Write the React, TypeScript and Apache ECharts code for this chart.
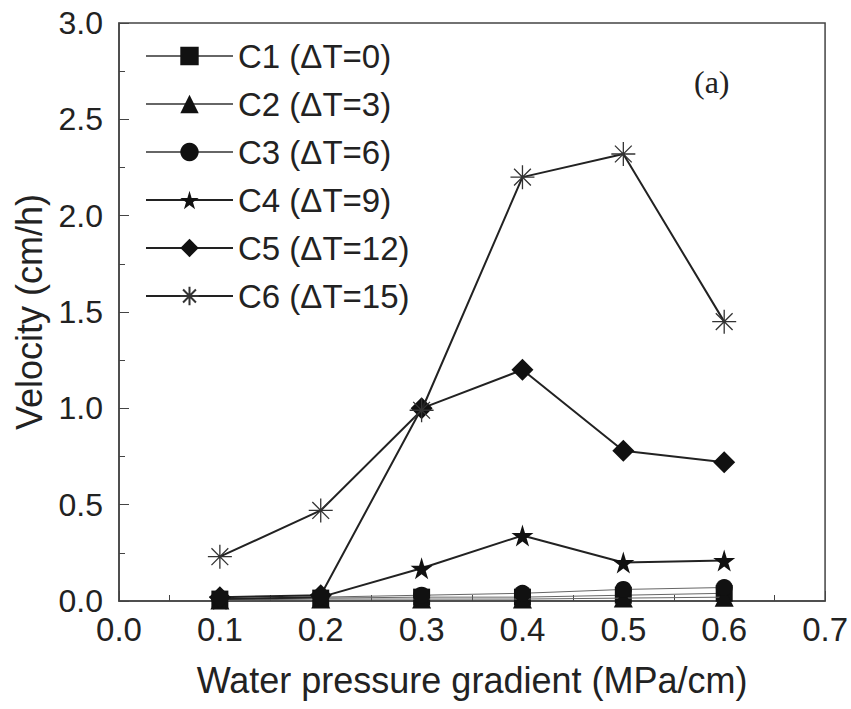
import React, { useEffect, useRef } from "react";
import * as echarts from "echarts";

const xValues = [0.1, 0.2, 0.3, 0.4, 0.5, 0.6];
const seriesNames = ["C1 (ΔT=0)", "C2 (ΔT=3)", "C3 (ΔT=6)", "C4 (ΔT=9)", "C5 (ΔT=12)", "C6 (ΔT=15)"];
const c1 = [0.01, 0.015, 0.02, 0.02, 0.03, 0.04];
const c2 = [0.005, 0.01, 0.01, 0.01, 0.015, 0.02];
const c3 = [0.01, 0.02, 0.03, 0.04, 0.06, 0.07];
const c4 = [0.01, 0.02, 0.17, 0.34, 0.2, 0.21];
const c5 = [0.02, 0.03, 1.0, 1.2, 0.78, 0.72];
const c6 = [0.23, 0.47, 0.99, 2.2, 2.32, 1.45];

const STAR = "path://M50,0 L61,35 L98,35 L68,57 L79,91 L50,70 L21,91 L32,57 L2,35 L39,35 Z";
const ASTER = "path://M50,0 L50,100 M0,50 L100,50 M15,15 L85,85 M85,15 L15,85";

export default function App() {
  const ref = useRef<HTMLDivElement>(null);
  useEffect(() => {
    if (!ref.current) return;
    document.body.style.margin = "0";
    const chart = echarts.init(ref.current, null, { renderer: "svg" });
    const sans = "'Liberation Sans', Arial, sans-serif";
    const all = [c1, c2, c3, c4, c5, c6];
    const symbols = ["rect", "triangle", "circle", STAR, "diamond", ASTER];
    const sizes = [17, 19, 17, 22, 22, 24];
    const widths = [1, 1, 1, 2, 2, 2];
    const lineColors = ["#666", "#666", "#666", "#222", "#222", "#222"];
    const series = all.map((vals, i) => {
      const isAster = i === 5;
      return {
        name: seriesNames[i],
        type: "line",
        data: xValues.map((x, j) => [x, vals[j]]),
        symbol: symbols[i],
        symbolSize: sizes[i],
        showAllSymbol: true,
        clip: false,
        z: 2 + i,
        lineStyle: { color: lineColors[i], width: widths[i] },
        itemStyle: isAster
          ? { color: "rgba(0,0,0,0)", borderColor: "#333", borderWidth: 1.3 }
          : { color: "#111", borderColor: "#111", borderWidth: 0 },
      };
    });
    chart.setOption({
      animation: false,
      backgroundColor: "#fff",
      grid: {
        left: 119,
        right: 24,
        top: 23,
        bottom: 108,
        show: true,
        borderColor: "#444",
        borderWidth: 1.5,
        backgroundColor: "transparent",
      },
      legend: {
        left: 140,
        top: 34,
        orient: "vertical",
        itemWidth: 87,
        itemHeight: 23,
        itemGap: 14,
        data: seriesNames,
        textStyle: { fontFamily: sans, fontSize: 33, lineHeight: 34, color: "#222" },
      },
      graphic: [
        {
          type: "text",
          left: 694,
          top: 66,
          style: { text: "(a)", font: "32px 'Liberation Serif', 'Times New Roman', serif", fill: "#222" },
        },
      ],
      xAxis: {
        type: "value",
        min: 0,
        max: 0.7,
        interval: 0.1,
        name: "Water pressure gradient (MPa/cm)",
        nameLocation: "middle",
        nameGap: 61,
        nameTextStyle: { fontFamily: sans, fontSize: 36, color: "#222" },
        axisLine: { show: true, lineStyle: { color: "#444", width: 1.5 } },
        axisTick: { show: true, inside: true, length: 10, lineStyle: { color: "#444" } },
        minorTick: { show: true, splitNumber: 2, length: 6, lineStyle: { color: "#444" } },
        splitLine: { show: false },
        axisLabel: {
          margin: 12,
          fontFamily: sans,
          fontSize: 33,
          color: "#222",
          formatter: (v: number) => v.toFixed(1),
        },
      },
      yAxis: {
        type: "value",
        min: 0,
        max: 3,
        interval: 0.5,
        name: "Velocity (cm/h)",
        nameLocation: "middle",
        nameGap: 68,
        nameTextStyle: { fontFamily: sans, fontSize: 36, color: "#222" },
        axisLine: { show: true, lineStyle: { color: "#444", width: 1.5 } },
        axisTick: { show: true, inside: true, length: 10, lineStyle: { color: "#444" } },
        minorTick: { show: true, splitNumber: 2, length: 6, lineStyle: { color: "#444" } },
        splitLine: { show: false },
        axisLabel: {
          margin: 16,
          fontFamily: sans,
          fontSize: 32,
          color: "#222",
          formatter: (v: number) => v.toFixed(1),
        },
      },
      series,
    });
    return () => chart.dispose();
  }, []);
  return <div ref={ref} style={{ width: 851, height: 709 }} />;
}
